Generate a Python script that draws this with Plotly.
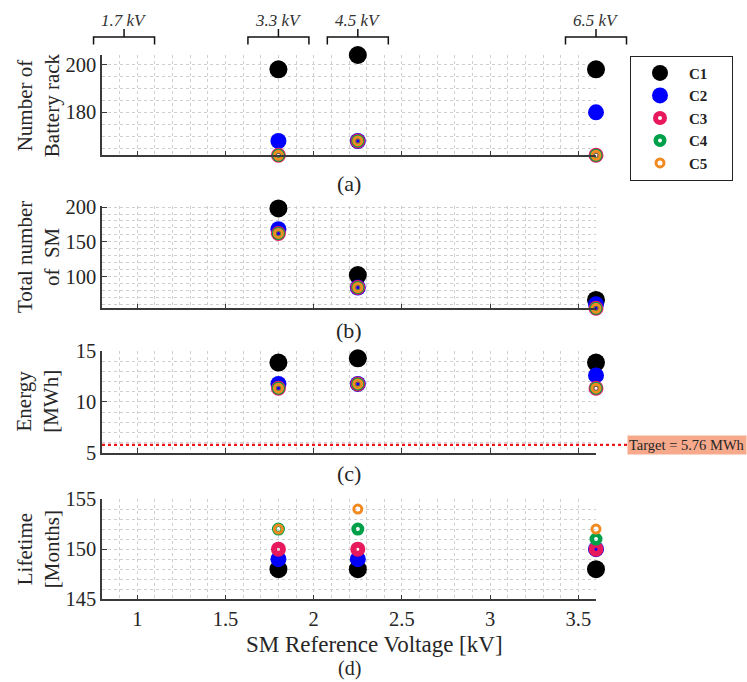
import plotly.graph_objects as go

# ---------------- data ----------------
voltages = [1.8, 2.25, 3.6]          # SM reference voltage [kV]
series = ["C1", "C2", "C3", "C4", "C5"]

racks = {
    "C1": [198, 204, 198],
    "C2": [168, 168, 180],
    "C3": [162, 168, 162],
    "C4": [162, 168, 162],
    "C5": [162, 168, 162],
}
total_sm = {
    "C1": [198, 102, 66],
    "C2": [168, 84, 60],
    "C3": [162, 84, 54],
    "C4": [162, 84, 54],
    "C5": [162, 84, 54],
}
energy = {
    "C1": [13.86, 14.28, 13.86],
    "C2": [11.76, 11.76, 12.6],
    "C3": [11.34, 11.76, 11.34],
    "C4": [11.34, 11.76, 11.34],
    "C5": [11.34, 11.76, 11.34],
}
lifetime = {
    "C1": [148, 148, 148],
    "C2": [149, 149, 150],
    "C3": [150, 150, 150],
    "C4": [152, 152, 151],
    "C5": [152, 154, 152],
}
target_energy = 5.76
bracket_centers = [0.925, 1.8, 2.25, 3.6]
bracket_labels = ["1.7 kV", "3.3 kV", "4.5 kV", "6.5 kV"]
panel_labels = ["(a)", "(b)", "(c)", "(d)"]
y_titles = ["Number of<br>Battery rack", "Total number<br>of\u00a0 SM",
            "Energy<br>[MWh]", "Lifetime<br>[Months]"]

# ---------------- style ----------------
W, H = 747, 682
FONT = "Liberation Serif"
AXC = "#3a3a3a"
GRIDC = "#cfcfcf"
XR = [0.8, 3.6]

styles = {
    "C1": dict(symbol="circle", size=18, color="black", line=dict(width=0)),
    "C2": dict(symbol="circle", size=16, color="#0000ff", line=dict(width=0)),
    "C3": dict(symbol="circle-open", size=9, color="#e8185c", line=dict(width=6, color="#e8185c")),
    "C4": dict(symbol="circle-open", size=8.5, color="#00a04b", line=dict(width=4.5, color="#00a04b")),
    "C5": dict(symbol="circle-open", size=8, color="#f28a22", line=dict(width=3, color="#f28a22")),
}

def px_x(p):
    return p / W

def px_y(p):
    return 1 - p / H

xdom = [px_x(102), px_x(596)]
# panel pixel extents (top, bottom)
panels_px = [(55, 155.3), (205.7, 308.3), (351, 452.7), (499, 599.3)]
yranges = [[162, 204], [54, 202], [5, 15], [145, 155]]
ydticks = [20, 50, 5, 5]
yminor = [5, 10, 1, 1]

def x_to_paper(v):
    return xdom[0] + (v - XR[0]) / (XR[1] - XR[0]) * (xdom[1] - xdom[0])

fig = go.Figure()
datasets = [racks, total_sm, energy, lifetime]

for i, data in enumerate(datasets):
    xa = "x" if i == 0 else f"x{i+1}"
    ya = "y" if i == 0 else f"y{i+1}"
    for s in series:
        fig.add_trace(go.Scatter(
            x=voltages, y=data[s], mode="markers", name=f"<b>{s}</b>\u00a0\u00a0\u00a0\u00a0\u00a0",
            legendgroup=s, showlegend=(i == 0), marker=styles[s],
            xaxis=xa, yaxis=ya, cliponaxis=False, hoverinfo="x+y+name",
        ))

layout = dict(
    width=W, height=H,
    margin=dict(l=0, r=0, t=0, b=0, pad=0, autoexpand=False),
    paper_bgcolor="white", plot_bgcolor="white",
    font=dict(family=FONT, color="#262626", size=20),
    showlegend=True,
    legend=dict(x=px_x(630), y=px_y(55.7), xanchor="left", yanchor="top",
                bordercolor="#222", borderwidth=1, bgcolor="white",
                font=dict(family=FONT, size=15, color="#222"),
                itemwidth=48, tracegroupgap=0),
)

for i in range(4):
    top, bot = panels_px[i]
    xk = "xaxis" if i == 0 else f"xaxis{i+1}"
    yk = "yaxis" if i == 0 else f"yaxis{i+1}"
    yid = "y" if i == 0 else f"y{i+1}"
    xid = "x" if i == 0 else f"x{i+1}"
    layout[xk] = dict(
        domain=xdom, anchor=yid, range=XR, dtick=0.5, tick0=0,
        showline=True, linecolor=AXC, linewidth=1.5, mirror=False,
        ticks="inside", ticklen=5, tickcolor=AXC, tickwidth=1.2,
        showticklabels=(i == 3), tickfont=dict(family=FONT, size=20.5, color="#262626"),
        showgrid=True, gridcolor=GRIDC, griddash="dot", gridwidth=1,
        minor=dict(dtick=0.1, showgrid=True, gridcolor=GRIDC, griddash="dot", gridwidth=1),
        zeroline=False, fixedrange=True, automargin=False,
    )
    layout[yk] = dict(
        domain=[px_y(bot), px_y(top)], anchor=xid, range=yranges[i], dtick=ydticks[i], tick0=0,
        showline=True, linecolor=AXC, linewidth=1.5,
        ticks="inside", ticklen=5, tickcolor=AXC, tickwidth=1.2,
        tickfont=dict(family=FONT, size=20.5, color="#262626"),
        showgrid=True, gridcolor=GRIDC, griddash="dot", gridwidth=1,
        minor=dict(dtick=yminor[i], showgrid=True, gridcolor=GRIDC, griddash="dot", gridwidth=1),
        zeroline=False, fixedrange=True, automargin=False,
    )

fig.update_layout(**layout)

annotations = []
shapes = []

# y titles
for i in range(4):
    top, bot = panels_px[i]
    annotations.append(dict(
        text=y_titles[i], x=px_x(38), y=px_y((top + bot) / 2), xref="paper", yref="paper",
        xanchor="center", yanchor="middle", textangle=-90, showarrow=False,
        font=dict(family=FONT, size=21, color="#262626"),
    ))

# panel labels
label_y = [183, 330, 473, 668]
label_size = [22, 22, 22, 20]
for lab, ly, ls in zip(panel_labels, label_y, label_size):
    annotations.append(dict(
        text=lab, x=px_x(349), y=px_y(ly), xref="paper", yref="paper",
        xanchor="center", yanchor="middle", showarrow=False,
        font=dict(family=FONT, size=ls, color="#262626"),
    ))

# x title
annotations.append(dict(
    text="SM Reference Voltage [kV]", x=px_x(374), y=px_y(644), xref="paper", yref="paper",
    xanchor="center", yanchor="middle", showarrow=False,
    font=dict(family=FONT, size=23, color="#262626"),
))

# voltage brackets above panel (a)
half_w = 30.5 / (xdom[1] - xdom[0]) / W * (XR[1] - XR[0])
for c, lab in zip(bracket_centers, bracket_labels):
    x0 = x_to_paper(c - half_w)
    x1 = x_to_paper(c + half_w)
    xc = x_to_paper(c)
    yh = px_y(37)
    ye = px_y(44.5)
    yt = px_y(29)
    shapes.append(dict(
        type="path", xref="paper", yref="paper",
        path=f"M {x0},{ye} L {x0},{yh} L {x1},{yh} L {x1},{ye} M {xc},{yh} L {xc},{yt}",
        line=dict(color="#111", width=1.5),
    ))
    annotations.append(dict(
        text=f"<i>{lab}</i>", x=xc, y=px_y(21), xref="paper", yref="paper",
        xanchor="center", yanchor="middle", showarrow=False,
        font=dict(family=FONT, size=17, color="#333"),
    ))

# target energy line and label
shapes.append(dict(
    type="line", xref="paper", yref="y3", x0=xdom[0], x1=px_x(627),
    y0=target_energy, y1=target_energy,
    line=dict(color="#e8191c", width=2.2, dash="dot"),
))
annotations.append(dict(
    text=f"Target = {target_energy} MWh", x=px_x(627), y=target_energy, xref="paper", yref="y3",
    xanchor="left", yanchor="middle", showarrow=False, bgcolor="#f7a98c", borderpad=1,
    font=dict(family=FONT, size=14.5, color="#262626"),
))

fig.update_layout(annotations=annotations, shapes=shapes)
fig.write_html("out.html")
